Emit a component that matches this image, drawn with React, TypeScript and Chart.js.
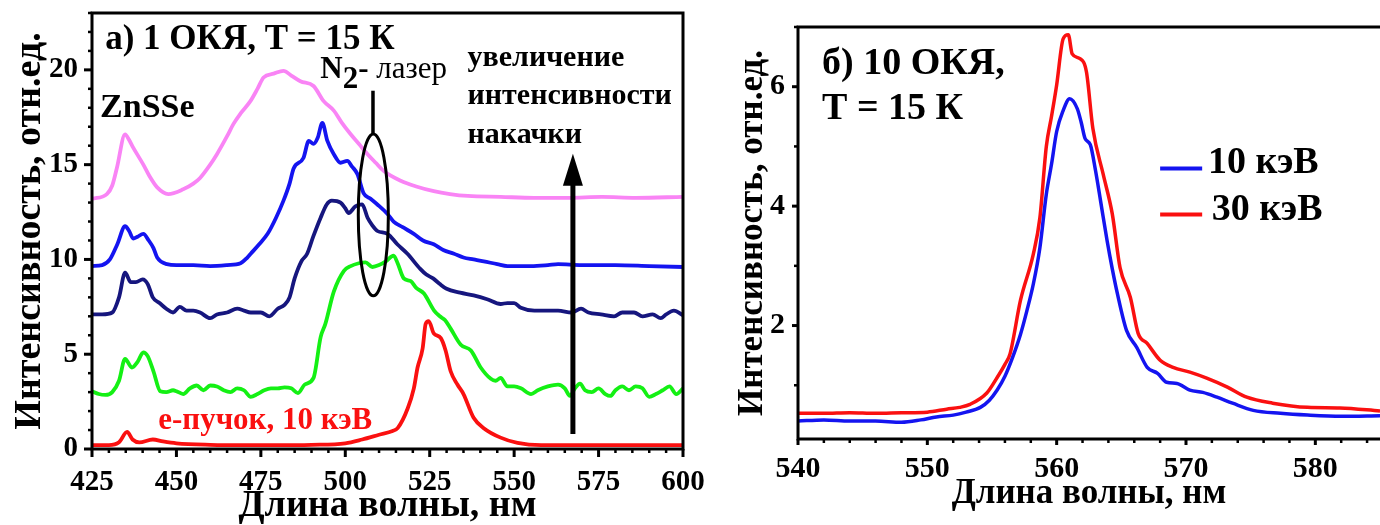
import React, { useEffect, useRef } from "react";
import { Chart, registerables } from "chart.js";

Chart.register(...registerables);

const SERIF = '"Liberation Serif", "Times New Roman", Times, serif';

// ---------- Panel (а): 1 ОКЯ, T = 15 K ----------
const xTicksA = [425, 450, 475, 500, 525, 550, 575, 600];
const yTicksA = [0, 5, 10, 15, 20];

const pinkNm = [425, 429.4, 431, 432.4, 434.8, 436, 437.2, 440.2, 442, 444.3, 447.6, 452, 455, 457, 460, 462, 465, 466.9, 469, 471.9, 474, 475.8, 478.8, 481.7, 484, 486.7, 490.6, 493.6, 496.6, 499, 501.6, 504, 506.6, 509, 511.5, 516.4, 521, 526.2, 531, 536.3, 546, 556, 566, 576, 586, 600];
const pinkI = [13.2, 13.45, 13.9, 14.85, 16.6, 16.3, 15.9, 15.0, 14.4, 13.8, 13.45, 13.7, 14.0, 14.3, 15.0, 15.55, 16.5, 17.15, 17.7, 18.35, 19.0, 19.6, 19.8, 19.95, 19.7, 19.4, 19.15, 18.35, 17.85, 17.2, 16.6, 16.1, 15.55, 15.1, 14.65, 14.15, 13.85, 13.6, 13.45, 13.35, 13.3, 13.25, 13.25, 13.3, 13.25, 13.3];

const blueNm = [425, 428, 430.3, 432.5, 434.8, 436, 437.2, 438.5, 440.2, 441.8, 443.2, 444.3, 447.2, 450, 455, 460, 465, 469, 471, 472, 474.5, 477, 479.5, 481.7, 483.5, 484.7, 487.6, 489.2, 490.6, 491.8, 493.2, 494.7, 496.6, 498.6, 500.6, 502, 503.6, 505.4, 507.5, 509.5, 512.5, 514.3, 517, 520.3, 523, 526.2, 529, 532.2, 535, 538, 541, 545, 548, 555, 560, 563, 570, 580, 590, 600];
const blueI = [9.65, 9.7, 10.0, 10.8, 11.75, 11.5, 11.1, 11.2, 11.35, 11.0, 10.6, 10.1, 9.75, 9.7, 9.7, 9.65, 9.7, 9.8, 10.1, 10.3, 10.8, 11.35, 12.2, 13.1, 14.0, 14.8, 15.35, 16.25, 16.1, 16.4, 17.2, 16.25, 15.55, 15.1, 15.2, 14.9, 14.5, 13.5, 13.2, 12.9, 12.4, 12.0, 11.7, 11.35, 11.0, 10.8, 10.5, 10.3, 10.1, 10.0, 9.9, 9.75, 9.65, 9.65, 9.7, 9.75, 9.7, 9.7, 9.65, 9.6];

const navyNm = [425, 428, 431, 433, 434.8, 436.5, 438, 440, 441.5, 443, 445, 447, 449, 451, 453, 455, 457, 460, 462, 465, 468, 470, 472, 475, 477.5, 480, 482, 483.5, 485, 487, 488.7, 490.5, 492.7, 494.5, 496, 498.6, 500, 501, 503, 505, 506.6, 508, 509.5, 512.5, 515.4, 518.4, 522.2, 524, 526, 528, 530, 534, 538, 542, 546, 548, 550, 552, 556, 560, 563, 567, 569.8, 572, 575.7, 579.6, 582, 585.5, 588, 591, 593.4, 595, 597.3, 600];
const navyI = [7.1, 7.1, 7.2, 8.0, 9.3, 8.8, 8.8, 8.95, 8.7, 8.0, 7.7, 7.4, 7.2, 7.5, 7.3, 7.3, 7.2, 6.9, 7.1, 7.2, 7.4, 7.3, 7.2, 7.2, 7.0, 7.4, 7.6, 8.0, 9.0, 9.9, 10.3, 11.2, 12.2, 12.9, 13.1, 13.0, 12.7, 12.45, 12.8, 12.9, 12.2, 11.8, 11.5, 11.35, 10.8, 10.3, 9.5, 9.2, 9.0, 8.7, 8.45, 8.25, 8.1, 7.9, 7.65, 7.7, 7.7, 7.45, 7.3, 7.3, 7.3, 7.2, 7.4, 7.2, 7.1, 7.0, 7.2, 7.2, 7.0, 7.1, 6.9, 7.1, 7.3, 7.05];

const greenNm = [425, 427, 429, 431, 433, 434.8, 436.8, 438.5, 440.2, 441.5, 443.2, 445.2, 447, 449, 450, 452, 454, 456, 458, 460, 462, 464, 466, 468, 470, 472, 474, 476, 478, 480, 482, 484, 486, 488, 490.6, 492.7, 494.1, 496.6, 499.6, 501.6, 504, 506, 508, 510, 512, 514.3, 515.5, 517.3, 519.4, 521, 523.3, 526.3, 528, 529.5, 531.2, 534.2, 537.2, 540.1, 543.1, 544.5, 546, 548, 550, 552, 555, 557, 560, 563, 565, 566.5, 568, 569.5, 571, 573, 575, 577, 578.5, 580, 582, 584, 586, 588, 590, 592, 594, 596, 598, 600];
const greenI = [3.05, 2.9, 2.85, 3.0, 3.6, 4.75, 4.3, 4.6, 5.1, 4.9, 4.1, 3.05, 3.0, 3.1, 3.05, 2.9, 3.2, 3.35, 3.1, 3.35, 3.3, 3.1, 3.0, 3.2, 3.1, 2.75, 2.9, 3.1, 3.2, 3.2, 3.25, 3.2, 2.95, 3.4, 3.75, 5.9, 6.6, 8.3, 9.4, 9.65, 9.8, 9.85, 9.6, 9.7, 9.9, 10.2, 9.8, 9.0, 8.85, 8.5, 8.2, 7.3, 7.0, 6.8, 6.35, 5.5, 5.2, 4.3, 3.7, 3.6, 3.75, 3.3, 3.3, 3.2, 2.9, 3.1, 3.3, 3.4, 3.2, 2.8, 3.2, 3.45, 3.1, 3.0, 3.2, 2.9, 2.8, 3.1, 3.3, 3.1, 3.3, 3.2, 2.75, 2.9, 3.1, 3.3, 2.9, 3.2];

const redNm = [425, 430, 433, 435.4, 437, 439, 443, 446, 450, 460, 470, 480, 490, 500, 505, 510, 514, 515.5, 518.5, 520.3, 521.4, 522.9, 523.8, 524.7, 526.2, 528.3, 529.7, 531.2, 533.2, 535, 538, 541, 546, 551, 558, 565, 580, 600];
const redI = [0.2, 0.2, 0.35, 0.9, 0.5, 0.35, 0.5, 0.4, 0.3, 0.22, 0.2, 0.2, 0.22, 0.3, 0.5, 0.75, 0.95, 1.1, 2.15, 3.2, 4.3, 5.3, 6.6, 6.75, 6.1, 5.85, 5.2, 4.1, 3.4, 2.9, 1.65, 1.1, 0.6, 0.32, 0.2, 0.2, 0.2, 0.2];

// ---------- Panel (б): 10 ОКЯ, T = 15 K ----------
const xTicksB = [540, 550, 560, 570, 580];
const yTicksB = [2, 4, 6];

const kev10Nm = [540, 542, 544, 546, 548, 549.5, 550.7, 552, 553, 554.1, 554.8, 555.4, 556, 556.6, 557.2, 557.7, 558.2, 558.7, 559.2, 559.6, 560, 560.5, 561, 561.6, 561.9, 562.2, 562.6, 563, 563.4, 563.9, 564.3, 564.7, 565.4, 566.2, 567, 567.8, 568.5, 569.3, 570.3, 571.3, 572.4, 573.6, 575.2, 577.3, 579.4, 582, 585];
const kev10I = [0.4, 0.42, 0.4, 0.4, 0.38, 0.42, 0.47, 0.5, 0.55, 0.63, 0.75, 0.92, 1.15, 1.47, 1.85, 2.25, 2.7, 3.3, 4.2, 4.7, 5.25, 5.6, 5.8, 5.63, 5.4, 5.13, 5.03, 4.6, 4.08, 3.42, 2.95, 2.53, 1.92, 1.63, 1.3, 1.2, 1.05, 1.03, 0.92, 0.88, 0.8, 0.7, 0.58, 0.53, 0.5, 0.48, 0.49];

const kev30Nm = [540, 542, 544, 546, 548, 550, 551.5, 552.5, 553.3, 554.6, 555.4, 556, 556.4, 557.2, 558.2, 558.7, 559.2, 559.6, 560, 560.5, 560.9, 561.2, 561.8, 562.3, 562.8, 563.6, 564.3, 564.9, 565.7, 566.3, 567, 568, 569, 570.3, 571.6, 573.2, 574.7, 576.7, 579.4, 581.9, 585];
const kev30I = [0.53, 0.53, 0.54, 0.53, 0.54, 0.55, 0.6, 0.63, 0.68, 0.87, 1.13, 1.35, 1.53, 2.42, 3.2, 3.8, 5.0, 5.5, 6.03, 6.8, 6.87, 6.55, 6.47, 6.25, 5.3, 4.53, 3.87, 2.97, 2.47, 1.87, 1.7, 1.42, 1.3, 1.22, 1.12, 0.97, 0.8, 0.7, 0.63, 0.62, 0.57];

const toXY = (xs: number[], ys: number[]) => xs.map((x, i) => ({ x, y: ys[i] }));
const font = (size: number, weight = "bold") => `${weight} ${size}px ${SERIF}`;

// frame + minor/major ticks drawn from the scales
const frameTicks = {
  id: "frameTicks",
  afterDatasetsDraw(chart: any, _a: any, o: any) {
    const { ctx, chartArea: a, scales } = chart;
    const xs = scales.x, ys = scales.y;
    ctx.save();
    ctx.strokeStyle = "#000";
    ctx.lineCap = "butt";
    const isMajor = (s: any, v: number) => s.ticks.some((t: any) => Math.abs(t.value - v) < 1e-6);
    for (let v = Math.ceil(xs.min / o.xMinor) * o.xMinor; v <= xs.max + 1e-9; v += o.xMinor) {
      const p = xs.getPixelForValue(v);
      const m = isMajor(xs, v);
      ctx.lineWidth = m ? 3 : 2.5;
      ctx.beginPath();
      ctx.moveTo(p, a.bottom);
      ctx.lineTo(p, a.bottom + (m ? o.majorLen : o.minorLen));
      ctx.stroke();
    }
    for (let v = Math.ceil(ys.min / o.yMinor) * o.yMinor; v <= ys.max + 1e-9; v += o.yMinor) {
      const p = ys.getPixelForValue(v);
      const m = isMajor(ys, v);
      ctx.lineWidth = m ? 3 : 2.5;
      ctx.beginPath();
      ctx.moveTo(a.left, p);
      ctx.lineTo(a.left - (m ? o.majorLen : o.minorLen), p);
      ctx.stroke();
    }
    ctx.lineWidth = o.frameWidth;
    ctx.lineCap = "square";
    ctx.beginPath();
    ctx.moveTo(a.left, a.top);
    ctx.lineTo(a.left, a.bottom);
    ctx.lineTo(a.right, a.bottom);
    ctx.moveTo(a.left, a.top);
    ctx.lineTo(a.right, a.top);
    if (o.rightSide) {
      ctx.lineTo(a.right, a.bottom);
    }
    ctx.stroke();
    ctx.restore();
  },
};

// annotations placed in data coordinates
const notes = {
  id: "notes",
  afterDatasetsDraw(chart: any, _a: any, o: any) {
    const { ctx, scales } = chart;
    const X = (v: number) => scales.x.getPixelForValue(v);
    const Y = (v: number) => scales.y.getPixelForValue(v);
    ctx.save();
    ctx.textBaseline = "middle";
    ctx.textAlign = "left";
    (o.texts || []).forEach((n: any) => {
      let px = X(n.x);
      const py = Y(n.y);
      ctx.fillStyle = n.color || "#000";
      n.runs.forEach((r: any) => {
        ctx.font = font(r.size, r.weight || "bold");
        ctx.fillText(r.t, px, py + (r.dy || 0));
        px += ctx.measureText(r.t).width;
      });
    });
    (o.lines || []).forEach((l: any) => {
      ctx.strokeStyle = l.color || "#000";
      ctx.lineWidth = l.width;
      ctx.beginPath();
      ctx.moveTo(X(l.x1), Y(l.y1));
      ctx.lineTo(X(l.x2), Y(l.y2));
      ctx.stroke();
    });
    (o.ellipses || []).forEach((e: any) => {
      const cx = X(e.cx), cy = Y(e.cy);
      const rx = Math.abs(X(e.cx + e.rx) - cx), ry = Math.abs(Y(e.cy + e.ry) - cy);
      ctx.strokeStyle = "#000";
      ctx.lineWidth = e.width;
      ctx.beginPath();
      ctx.ellipse(cx, cy, rx, ry, 0, 0, Math.PI * 2);
      ctx.stroke();
    });
    (o.arrows || []).forEach((ar: any) => {
      const x = X(ar.x), y1 = Y(ar.y1), y2 = Y(ar.y2);
      ctx.strokeStyle = "#000";
      ctx.fillStyle = "#000";
      ctx.lineWidth = ar.width;
      ctx.beginPath();
      ctx.moveTo(x, y1);
      ctx.lineTo(x, y2 + ar.headLen - 2);
      ctx.stroke();
      ctx.beginPath();
      ctx.moveTo(x, y2);
      ctx.lineTo(x - ar.headHalf, y2 + ar.headLen);
      ctx.lineTo(x + ar.headHalf, y2 + ar.headLen);
      ctx.closePath();
      ctx.fill();
    });
    (o.legend || []).forEach((lg: any) => {
      const ds = chart.data.datasets[lg.ds];
      ctx.strokeStyle = ds.borderColor;
      ctx.lineWidth = lg.width;
      ctx.beginPath();
      ctx.moveTo(X(lg.x1), Y(lg.y));
      ctx.lineTo(X(lg.x2), Y(lg.y));
      ctx.stroke();
      ctx.fillStyle = "#000";
      ctx.font = font(lg.size);
      ctx.fillText(ds.label, X(lg.tx), Y(lg.ty));
    });
    ctx.restore();
  },
};

const lineDs = (label: string, xs: number[], ys: number[], color: string, w: number) => ({
  label,
  data: toXY(xs, ys),
  borderColor: color,
  backgroundColor: color,
  borderWidth: w,
  pointRadius: 0,
  cubicInterpolationMode: "monotone",
  fill: false,
});

function axisTitle(text: string, size: number, padding: any) {
  return { display: true, text, color: "#000", font: { family: SERIF, size, weight: "bold", lineHeight: 1 }, padding };
}

const fixX = (h: number) => (s: any) => { s.height = h; s.paddingLeft = 0; s.paddingRight = 0; };
const fixY = (w: number) => (s: any) => { s.width = w; s.paddingTop = 0; s.paddingBottom = 0; };

function configA(): any {
  return {
    type: "line",
    data: {
      datasets: [
        lineDs("накачка 5", pinkNm, pinkI, "#f984f5", 3.8),
        lineDs("накачка 4", blueNm, blueI, "#1414f0", 3.8),
        lineDs("накачка 3", navyNm, navyI, "#16167e", 3.8),
        lineDs("накачка 2", greenNm, greenI, "#14f014", 3.8),
        lineDs("е-пучок, 10 кэВ", redNm, redI, "#fa1010", 3.8),
      ],
    },
    options: {
      responsive: false,
      animation: false,
      layout: { padding: { left: 0, top: 13, right: 37, bottom: 0 } },
      plugins: {
        legend: { display: false },
        tooltip: { enabled: false },
        frameTicks: { xMinor: 5, yMinor: 1, majorLen: 8, minorLen: 4, frameWidth: 3, rightSide: true },
        notes: {
          texts: [
            { x: 428.9, y: 21.6, runs: [{ t: "а) 1 ОКЯ, Т = 15 К", size: 35 }] },
            { x: 427.4, y: 18.0, runs: [{ t: "ZnSSe", size: 34 }] },
            { x: 492.6, y: 20.0, runs: [{ t: "N", size: 31 }, { t: "2", size: 31, dy: 10 }, { t: "- ", size: 31 }, { t: "лазер", size: 31, weight: "normal" }] },
            { x: 536.2, y: 20.6, runs: [{ t: "увеличение", size: 30 }] },
            { x: 536.2, y: 18.6, runs: [{ t: "интенсивности", size: 30 }] },
            { x: 536.2, y: 16.56, runs: [{ t: "накачки", size: 30 }] },
            { x: 444.6, y: 1.48, color: "#fa1010", runs: [{ t: "е-пучок, 10 кэВ", size: 31 }] },
          ],
          lines: [{ x1: 508.2, y1: 18.9, x2: 508.2, y2: 16.6, width: 3.5 }],
          ellipses: [{ cx: 508.3, cy: 12.35, rx: 4.45, ry: 4.27, width: 3 }],
          arrows: [{ x: 567.4, y1: 0.79, y2: 15.57, width: 5, headLen: 32, headHalf: 10 }],
        },
      },
      scales: {
        x: {
          type: "linear",
          min: 425,
          max: 600,
          afterBuildTicks: (s: any) => { s.ticks = xTicksA.map((v) => ({ value: v })); },
          afterFit: fixX(76),
          grid: { display: false },
          border: { display: false },
          ticks: { color: "#000", font: { family: SERIF, size: 29, weight: "bold" }, padding: 8, maxRotation: 0, autoSkip: false },
          title: axisTitle("Длина волны, нм", 38, { top: 0, bottom: 0 }),
        },
        y: {
          type: "linear",
          min: 0,
          max: 23,
          afterBuildTicks: (s: any) => { s.ticks = yTicksA.map((v) => ({ value: v })); },
          afterFit: fixY(92),
          grid: { display: false },
          border: { display: false },
          ticks: { color: "#000", font: { family: SERIF, size: 29, weight: "bold" }, padding: 6, autoSkip: false },
          title: axisTitle("Интенсивность, отн.ед.", 38, { top: 11, bottom: 0 }),
        },
      },
    },
    plugins: [frameTicks, notes],
  };
}

function configB(): any {
  return {
    type: "line",
    data: {
      datasets: [
        lineDs("10 кэВ", kev10Nm, kev10I, "#1414f0", 3.5),
        lineDs("30 кэВ", kev30Nm, kev30I, "#fa1010", 3.5),
      ],
    },
    options: {
      responsive: false,
      animation: false,
      layout: { padding: { left: 0, top: 27, right: 0, bottom: 0 } },
      plugins: {
        legend: { display: false },
        tooltip: { enabled: false },
        frameTicks: { xMinor: 2, yMinor: 1, majorLen: 6, minorLen: 4, frameWidth: 3, rightSide: false },
        notes: {
          texts: [
            { x: 541.86, y: 6.37, runs: [{ t: "б) 10 ОКЯ,", size: 38 }] },
            { x: 541.86, y: 5.62, runs: [{ t: "Т = 15 К", size: 38 }] },
          ],
          legend: [
            { ds: 0, x1: 568.0, x2: 571.25, y: 4.63, tx: 571.7, ty: 4.72, size: 38, width: 4 },
            { ds: 1, x1: 568.0, x2: 571.25, y: 3.86, tx: 572.0, ty: 3.93, size: 38, width: 4 },
          ],
        },
      },
      scales: {
        x: {
          type: "linear",
          min: 540,
          max: 585,
          afterBuildTicks: (s: any) => { s.ticks = xTicksB.map((v) => ({ value: v })); },
          afterFit: fixX(86),
          grid: { display: false },
          border: { display: false },
          ticks: { color: "#000", font: { family: SERIF, size: 30, weight: "bold" }, padding: 4, maxRotation: 0, autoSkip: false },
          title: axisTitle("Длина волны, нм", 35, { top: 0, bottom: 14 }),
        },
        y: {
          type: "linear",
          min: 0.1,
          max: 7,
          afterBuildTicks: (s: any) => { s.ticks = yTicksB.map((v) => ({ value: v })); },
          afterFit: fixY(98),
          grid: { display: false },
          border: { display: false },
          ticks: { color: "#000", font: { family: SERIF, size: 30, weight: "bold" }, padding: 5, autoSkip: false },
          title: axisTitle("Интенсивность, отн.ед.", 35, { top: 35, bottom: 0 }),
        },
      },
    },
    plugins: [frameTicks, notes],
  };
}

function ChartCanvas({ make, left, width }: { make: () => any; left: number; width: number }) {
  const ref = useRef<HTMLCanvasElement | null>(null);
  useEffect(() => {
    if (!ref.current) return;
    const chart = new Chart(ref.current, make());
    return () => chart.destroy();
  }, [make]);
  return (
    <canvas
      ref={ref}
      width={width}
      height={525}
      style={{ position: "absolute", left, top: 0, width, height: 525 }}
    />
  );
}

export default function App() {
  return (
    <div style={{ position: "fixed", left: 0, top: 0, width: 1380, height: 525, background: "#fff", overflow: "hidden" }}>
      <ChartCanvas make={configB} left={700} width={680} />
      <ChartCanvas make={configA} left={0} width={720} />
    </div>
  );
}
